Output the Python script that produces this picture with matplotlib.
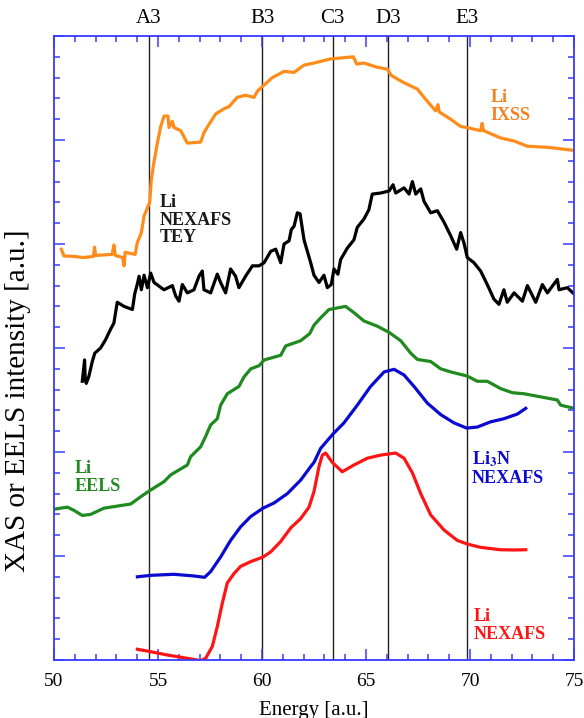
import matplotlib
matplotlib.use('Agg')
import matplotlib.pyplot as plt
from matplotlib.ticker import MultipleLocator

plt.rcParams['font.family'] = ['Liberation Serif', 'DejaVu Serif']
plt.rcParams['mathtext.fontset'] = 'stix'

# Li IXSS (orange)
ixss_x = [50.35, 50.48, 51.0, 51.4, 51.9, 51.95, 52.0, 52.8, 52.88, 52.95, 53.3, 53.37, 53.42, 53.9,
          54.0, 54.2, 54.33, 54.6, 54.68, 54.8, 54.97, 55.13, 55.29, 55.48, 55.53, 55.69, 55.77, 56.09,
          56.41, 57.05, 57.21, 57.45, 57.77, 58.17, 58.41, 58.81, 59.21, 59.62, 59.78, 60.05, 60.5,
          61.06, 61.54, 62.02, 62.5, 63.3, 63.86, 64.39, 64.55, 64.9, 65.54, 66.03, 66.22, 66.83,
          67.47, 67.87, 68.35, 68.46, 68.52, 69.07, 69.55, 69.84, 70.51, 70.58, 70.65, 71.47, 72.12,
          72.76, 73.72, 75.0]
ixss_y = [3.95, 3.885, 3.88, 3.87, 3.88, 3.97, 3.89, 3.90, 3.99, 3.89, 3.87, 3.79, 3.92, 3.90,
          4.01, 4.11, 4.27, 4.40, 4.62, 4.78, 4.97, 5.13, 5.23, 5.23, 5.12, 5.18, 5.12, 5.09,
          4.97, 4.98, 5.07, 5.15, 5.25, 5.30, 5.32, 5.41, 5.43, 5.41, 5.47, 5.52, 5.60,
          5.66, 5.65, 5.72, 5.74, 5.78, 5.79, 5.80, 5.73, 5.74, 5.70, 5.68, 5.62, 5.55,
          5.49, 5.39, 5.28, 5.34, 5.27, 5.20, 5.13, 5.12, 5.09, 5.16, 5.09, 5.02, 4.99,
          4.94, 4.93, 4.90]

# Li NEXAFS TEY (black)
tey_x = [51.36, 51.47, 51.5, 51.55, 51.68, 51.84, 51.96, 52.24, 52.48, 52.72, 52.88, 53.04, 53.37,
         53.77, 53.88, 54.0, 54.09, 54.2, 54.33, 54.49, 54.65, 54.81, 55.29, 55.69, 55.85, 56.01,
         56.17, 56.41, 56.73, 56.97, 57.13, 57.21, 57.53, 57.85, 58.01, 58.25, 58.49, 58.73, 58.89,
         59.21, 59.54, 59.86, 60.1, 60.42, 60.66, 60.9, 61.06, 61.3, 61.41, 61.54, 61.7, 61.83,
         62.02, 62.34, 62.5, 62.74, 62.98, 63.14, 63.33, 63.46, 63.65, 63.78, 64.1, 64.42, 64.58,
         64.9, 65.14, 65.3, 65.7, 66.11, 66.3, 66.43, 66.83, 67.07, 67.23, 67.39, 67.63, 67.79,
         68.11, 68.43, 68.75, 69.07, 69.36, 69.55, 69.71, 69.87, 70.19, 70.51, 70.83, 71.15, 71.39,
         71.63, 71.79, 72.12, 72.52, 72.76, 73.16, 73.48, 73.72, 74.2, 74.28, 74.68, 75.0]
tey_y = [2.68, 2.885, 2.70, 2.66, 2.73, 2.87, 2.95, 3.00, 3.08, 3.18, 3.24, 3.44, 3.40,
         3.37, 3.52, 3.61, 3.69, 3.56, 3.70, 3.58, 3.72, 3.63, 3.56, 3.60, 3.50, 3.45,
         3.61, 3.53, 3.56, 3.69, 3.74, 3.56, 3.53, 3.71, 3.63, 3.53, 3.76, 3.69, 3.58,
         3.69, 3.79, 3.79, 3.82, 3.93, 3.95, 3.82, 4.00, 4.03, 4.14, 4.17, 4.30, 4.29,
         4.04, 3.82, 3.70, 3.63, 3.70, 3.58, 3.61, 3.76, 3.71, 3.85, 3.96, 4.04, 4.16,
         4.24, 4.33, 4.48, 4.49, 4.51, 4.57, 4.49, 4.54, 4.48, 4.60, 4.48, 4.53, 4.41,
         4.30, 4.32, 4.21, 4.08, 3.95, 4.11, 4.01, 3.87, 3.82, 3.74, 3.61, 3.47, 3.42,
         3.56, 3.44, 3.53, 3.45, 3.60, 3.44, 3.61, 3.53, 3.66, 3.56, 3.58, 3.52]

# Li EELS (green)
eels_x = [50.0, 50.64, 50.95, 51.36, 51.76, 52.4, 53.69, 54.17, 54.65, 55.29, 55.61, 56.41, 56.57,
          57.05, 57.29, 57.53, 57.85, 58.01, 58.33, 58.89, 59.13, 59.46, 59.86, 60.1, 60.9, 61.14,
          61.86, 62.3, 62.5, 62.82, 63.22, 64.02, 64.42, 64.9, 65.54, 66.11, 66.67, 67.15, 67.47,
          68.11, 68.59, 69.07, 69.87, 70.35, 70.83, 71.47, 72.04, 72.6, 73.4, 74.2, 74.36, 75.0]
eels_y = [1.45, 1.47, 1.44, 1.39, 1.40, 1.46, 1.50, 1.57, 1.635, 1.715, 1.78, 1.875, 1.955,
          2.05, 2.15, 2.26, 2.32, 2.45, 2.56, 2.63, 2.72, 2.80, 2.83, 2.885, 2.93, 3.02,
          3.07, 3.14, 3.22, 3.29, 3.37, 3.40, 3.34, 3.26, 3.21, 3.15, 3.07, 2.95, 2.89,
          2.87, 2.80, 2.77, 2.73, 2.68, 2.68, 2.61, 2.57, 2.56, 2.53, 2.50, 2.45, 2.42]

# Li3N NEXAFS (blue)
li3n_x = [54.01, 54.65, 55.77, 56.73, 57.24, 57.53, 58.01, 58.49, 58.97, 59.46, 60.05, 60.58, 61.22,
          61.86, 62.34, 62.5, 62.82, 63.4, 63.94, 64.58, 65.22, 65.87, 66.35, 66.83, 67.31, 67.95,
          68.59, 69.23, 69.84, 70.35, 70.99, 71.63, 72.28, 72.68]
li3n_y = [0.80, 0.814, 0.824, 0.808, 0.795, 0.85, 0.99, 1.15, 1.28, 1.38, 1.46, 1.51, 1.60,
          1.73, 1.86, 1.90, 2.035, 2.17, 2.28, 2.45, 2.63, 2.77, 2.795, 2.74, 2.63, 2.47,
          2.36, 2.28, 2.23, 2.24, 2.29, 2.32, 2.365, 2.42]

# Li NEXAFS (red)
li_x = [54.01, 54.65, 55.45, 56.41, 57.05, 57.29, 57.61, 57.85, 58.09, 58.33, 58.65, 58.97, 59.46,
        60.05, 60.42, 60.9, 61.38, 61.86, 62.26, 62.5, 62.74, 62.9, 63.06, 63.38, 63.86, 64.42,
        65.06, 65.7, 66.43, 66.83, 67.23, 67.63, 68.11, 68.75, 69.39, 69.87, 70.51, 71.47, 72.12, 72.68]
li_y = [0.103, 0.08, 0.048, 0.016, -0.006, 0.016, 0.13, 0.32, 0.545, 0.74, 0.83, 0.90, 0.946,
        0.99, 1.04, 1.14, 1.27, 1.36, 1.47, 1.62, 1.86, 1.97, 1.99, 1.90, 1.81, 1.875,
        1.94, 1.97, 1.99, 1.94, 1.80, 1.60, 1.395, 1.25, 1.15, 1.115, 1.083, 1.06, 1.058, 1.06]

# reference energies
ref_names = ['A3', 'B3', 'C3', 'D3', 'E3']
ref_pos = [54.56, 60.02, 63.4, 66.08, 69.84]

fig = plt.figure(figsize=(5.84, 7.18), dpi=100)
ax = fig.add_axes([54/584, 1 - 660/718, 520/584, 624/718])

for xv, name in zip(ref_pos, ref_names):
    ax.axvline(xv, color='#222222', lw=1.0, zorder=1)
    ax.text(xv, 1.013, name, transform=ax.get_xaxis_transform(), ha='center', va='bottom', fontsize=15)

lw = 2.3
ax.plot(ixss_x, ixss_y, color='#ff8c1a', lw=lw)
ax.plot(tey_x, tey_y, color='black', lw=lw)
ax.plot(eels_x, eels_y, color='#1f8a1f', lw=lw)
ax.plot(li3n_x, li3n_y, color='#0a0ad2', lw=lw)
ax.plot(li_x, li_y, color='#ff1414', lw=lw)

ax.text(71.0, 5.49, 'Li\nIXSS', color='#f5801e', fontsize=13, fontweight='bold', va='top', linespacing=1.05)
ax.text(55.1, 4.48, 'Li\nNEXAFS\nTEY', color='#1a1a1a', fontsize=13, fontweight='bold', va='top', linespacing=1.05)
ax.text(51.0, 1.92, 'Li\nEELS', color='#1f8a1f', fontsize=13, fontweight='bold', va='top', linespacing=1.05)
ax.text(70.1, 2.02, 'Li$_\\mathbf{3}$N\nNEXAFS', color='#0a0ad2', fontsize=13, fontweight='bold', va='top', linespacing=1.05)
ax.text(70.16, 0.50, 'Li\nNEXAFS', color='#ff1414', fontsize=13, fontweight='bold', va='top', linespacing=1.05)

ax.set_xlim(50, 75)
ax.set_ylim(0, 6)
ax.xaxis.set_major_locator(MultipleLocator(5))
ax.xaxis.set_minor_locator(MultipleLocator(1))
ax.yaxis.set_major_locator(MultipleLocator(1))
ax.yaxis.set_minor_locator(MultipleLocator(0.2))
ax.tick_params(which='both', direction='in', top=True, right=True, color='#3a3aff', width=1.1)
ax.tick_params(which='major', length=8)
ax.tick_params(which='minor', length=4.3)
ax.tick_params(axis='x', labelsize=14, pad=9)
ax.tick_params(axis='y', labelleft=False)
for s in ax.spines.values():
    s.set_color('#3a3aff')
    s.set_linewidth(1.3)

ax.set_xlabel('Energy [a.u.]', fontsize=15, labelpad=8)
ax.set_ylabel('XAS or EELS intensity [a.u.]', fontsize=21)
ax.yaxis.set_label_coords(-0.045, 0.415)

plt.savefig('out.png', dpi=100)
